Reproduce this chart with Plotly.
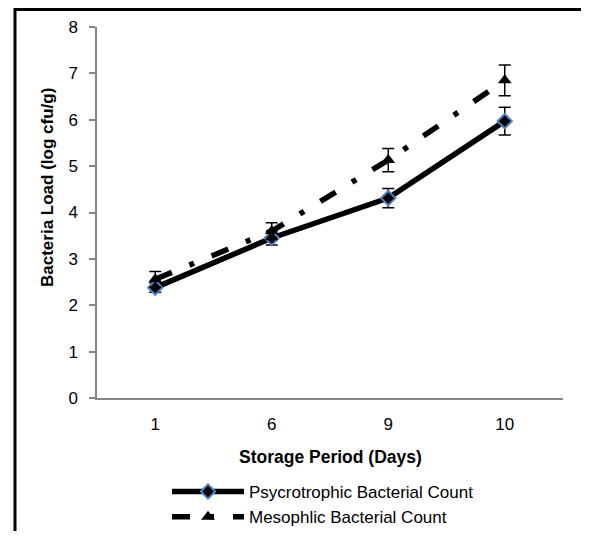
import plotly.graph_objects as go

days = ["1", "6", "9", "10"]
psy_vals = [2.38, 3.45, 4.31, 5.97]
psy_err = [0.10, 0.15, 0.21, 0.30]
meso_vals = [2.56, 3.60, 5.13, 6.85]
meso_err = [0.17, 0.18, 0.25, 0.33]
y_ticks = [0, 1, 2, 3, 4, 5, 6, 7, 8]

# page body has an 8px margin: figure pixel = screen pixel - 8
OFF = 8
W, H = 589 - 2 * OFF, 539 - 2 * OFF
L = 97 - OFF
T = 27 - OFF
R = W - (563 - OFF)
B = H - (398 - OFF)
pw, ph = W - L - R, H - T - B

def px_x(p):
    return (p - OFF - L) / pw

def px_y(p):
    return (H - B - (p - OFF)) / ph

FONT = "Liberation Sans, Arial, sans-serif"

fig = go.Figure()
fig.add_trace(go.Scatter(
    x=days, y=psy_vals, name="Psycrotrophic Bacterial Count",
    mode="lines+markers",
    line=dict(color="black", width=5.5),
    marker=dict(symbol="diamond", size=11, color="black",
                line=dict(color="#4F81BD", width=2)),
    error_y=dict(type="data", array=psy_err, visible=True,
                 color="black", thickness=1.5, width=6),
))
fig.add_trace(go.Scatter(
    x=days, y=meso_vals, name="Mesophlic Bacterial Count",
    mode="lines+markers",
    line=dict(color="black", width=5.5, dash="18px,19px,5px,19px"),
    marker=dict(symbol="triangle-up", size=12, color="black"),
    error_y=dict(type="data", array=meso_err, visible=True,
                 color="black", thickness=1.5, width=6),
))

fig.update_layout(
    width=W, height=H,
    margin=dict(l=L, r=R, t=T, b=B, autoexpand=False),
    paper_bgcolor="white", plot_bgcolor="white",
    font=dict(family=FONT, color="black", size=17),
    showlegend=True,
    legend=dict(x=px_x(167), y=px_y(474), xanchor="left", yanchor="top",
                font=dict(size=17, family=FONT), itemwidth=72,
                tracegroupgap=0, bgcolor="rgba(0,0,0,0)"),
    xaxis=dict(type="category", range=[-0.5, 3.5], showline=True,
               linecolor="#868686", linewidth=1.5, ticks="",
               showgrid=False, zeroline=False, ticklabelstandoff=10,
               tickfont=dict(size=17)),
    yaxis=dict(range=[0, 8], tickvals=y_ticks, showline=True,
               linecolor="#868686", linewidth=1.5, ticks="outside",
               ticklen=6, tickcolor="#868686", tickwidth=1.5,
               showgrid=False, zeroline=False, ticklabelstandoff=8,
               tickfont=dict(size=17)),
    annotations=[
        dict(text="<b>Bacteria Load (log cfu/g)</b>", xref="paper", yref="paper",
             x=px_x(47), y=px_y(188), textangle=-90, showarrow=False,
             xanchor="center", yanchor="middle", font=dict(size=17)),
        dict(text="<b>Storage Period (Days)</b>", xref="paper", yref="paper",
             x=0.5, y=px_y(457), showarrow=False,
             xanchor="center", yanchor="middle", font=dict(size=17.5)),
    ],
    shapes=[
        dict(type="rect", xref="paper", yref="paper",
             x0=px_x(15), x1=px_x(640), y0=px_y(640), y1=px_y(9.5),
             line=dict(color="black", width=3), fillcolor="rgba(0,0,0,0)"),
    ],
)

fig.write_html("out.html")
